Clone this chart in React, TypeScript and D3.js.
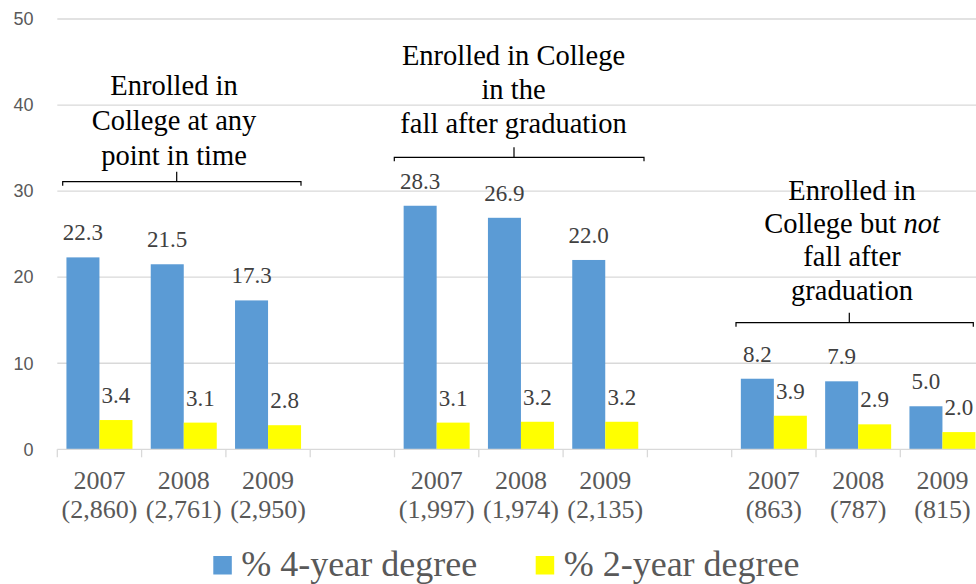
import React, { useEffect, useRef } from 'react';
import * as d3 from 'd3';

// category slots (blank slots separate the three groups)
const categoryYears = ['2007', '2008', '2009', '', '2007', '2008', '2009', '', '2007', '2008', '2009'];
const categoryNs = ['(2,860)', '(2,761)', '(2,950)', '', '(1,997)', '(1,974)', '(2,135)', '', '(863)', '(787)', '(815)'];

const fourYear = [22.3, 21.5, 17.3, null, 28.3, 26.9, 22.0, null, 8.2, 7.9, 5.0];
const twoYear = [3.4, 3.1, 2.8, null, 3.1, 3.2, 3.2, null, 3.9, 2.9, 2.0];

const seriesNames = ['% 4-year degree', '% 2-year degree'];
const seriesColors = ['#5b9bd5', '#ffff00'];

const yTicks = [0, 10, 20, 30, 40, 50];

const SERIF = "'Liberation Serif', 'DejaVu Serif', serif";
const SANS = "'Liberation Sans', Arial, sans-serif";

const App: React.FC = () => {
  const svgRef = useRef<SVGSVGElement>(null);

  useEffect(() => {
    document.body.style.margin = '0';
    if (!svgRef.current) return;

    const svg = d3.select(svgRef.current);
    svg.selectAll('*').remove();

    const width = 976;
    const height = 584;
    svg.attr('width', width).attr('height', height);

    const left = 57.3;
    const idx = categoryYears.map((_, i) => i);

    const x = d3.scaleBand<number>()
      .domain(idx)
      .range([left, left + 84.3 * idx.length]);

    const inner = d3.scaleBand<number>()
      .domain([0, 1])
      .range([0, x.bandwidth()])
      .paddingInner(0)
      .paddingOuter(0.277);

    const y = d3.scaleLinear().domain([0, 50]).range([449.3, 19]);

    // gridlines
    svg.append('g')
      .selectAll('line')
      .data(yTicks.filter(t => t > 0))
      .enter()
      .append('line')
      .attr('x1', left)
      .attr('x2', width)
      .attr('y1', d => y(d))
      .attr('y2', d => y(d))
      .style('stroke', '#d9d9d9')
      .style('stroke-width', '1.3px');

    // y labels
    svg.append('g')
      .selectAll('text')
      .data(yTicks)
      .enter()
      .append('text')
      .attr('x', 33.5)
      .attr('y', d => y(d))
      .attr('dy', '0.35em')
      .attr('text-anchor', 'end')
      .attr('font-family', SANS)
      .attr('font-size', 18)
      .attr('fill', '#595959')
      .text(d => d);

    // bars
    const series = [fourYear, twoYear];
    series.forEach((vals, s) => {
      const g = svg.append('g');
      const data = idx.filter(i => vals[i] !== null);
      g.selectAll('rect')
        .data(data)
        .enter()
        .append('rect')
        .attr('x', i => (x(i) as number) + (inner(s) as number))
        .attr('width', inner.bandwidth())
        .attr('y', i => y(vals[i] as number))
        .attr('height', i => y(0) - y(vals[i] as number))
        .attr('fill', seriesColors[s]);

      g.selectAll('text')
        .data(data)
        .enter()
        .append('text')
        .attr('x', i => (x(i) as number) + (inner(s) as number) + inner.bandwidth() / 2)
        .attr('y', i => y(vals[i] as number) - 17)
        .attr('text-anchor', 'middle')
        .attr('font-family', SERIF)
        .attr('font-size', 23)
        .attr('fill', '#404040')
        .text(i => (vals[i] as number).toFixed(1));
    });

    // x axis line + ticks
    svg.append('line')
      .attr('x1', left)
      .attr('x2', width)
      .attr('y1', y(0))
      .attr('y2', y(0))
      .attr('stroke', '#d9d9d9')
      .attr('stroke-width', 1.3);

    svg.append('g')
      .selectAll('line')
      .data(idx)
      .enter()
      .append('line')
      .attr('x1', i => x(i) as number)
      .attr('x2', i => x(i) as number)
      .attr('y1', y(0))
      .attr('y2', y(0) + 8)
      .attr('stroke', '#d9d9d9')
      .attr('stroke-width', 1.3);

    // x labels
    const xl = svg.append('g')
      .selectAll('text')
      .data(idx.filter(i => categoryYears[i] !== ''))
      .enter()
      .append('text')
      .attr('text-anchor', 'middle')
      .attr('font-family', SERIF)
      .attr('font-size', 26)
      .attr('fill', '#595959');
    xl.append('tspan')
      .attr('x', i => (x(i) as number) + x.bandwidth() / 2)
      .attr('y', 489)
      .text(i => categoryYears[i]);
    xl.append('tspan')
      .attr('x', i => (x(i) as number) + x.bandwidth() / 2)
      .attr('y', 518)
      .text(i => categoryNs[i]);

    // group annotations with brackets
    const notes = [
      { cx: 174, lines: [['Enrolled in'], ['College at any'], ['point in time']], y0: 95, lh: 35,
        bx1: 62.7, bx2: 301, by: 181.7, bc: 176.7 },
      { cx: 513.5, lines: [['Enrolled in College'], ['in the'], ['fall after graduation']], y0: 65, lh: 33.8,
        bx1: 394.3, bx2: 644, by: 157.3, bc: 514 },
      { cx: 852, lines: [['Enrolled in'], ['College but ', 'not'], ['fall after'], ['graduation']], y0: 200, lh: 33.2,
        bx1: 736, bx2: 973.3, by: 322.7, bc: 849.3 },
    ];
    notes.forEach(n => {
      const t = svg.append('text')
        .attr('text-anchor', 'middle')
        .attr('font-family', SERIF)
        .attr('font-size', 28.5)
        .attr('fill', '#000');
      n.lines.forEach((parts, li) => {
        const line = t.append('tspan')
          .attr('x', n.cx)
          .attr('y', n.y0 + li * n.lh);
        parts.forEach((p, pi) => {
          line.append('tspan')
            .attr('font-style', pi === 1 ? 'italic' : 'normal')
            .text(p);
        });
      });
      svg.append('path')
        .attr('d', `M${n.bx1},${n.by + 4}V${n.by}H${n.bx2}V${n.by + 4}M${n.bc},${n.by}V${n.by - 10}`)
        .attr('fill', 'none')
        .attr('stroke', '#000')
        .attr('stroke-width', 1.2);
    });

    // legend
    const legendX = [213.3, 535.7];
    seriesNames.forEach((name, s) => {
      svg.append('rect')
        .attr('x', legendX[s])
        .attr('y', 556)
        .attr('width', 18.5)
        .attr('height', 18.5)
        .attr('fill', seriesColors[s]);
      svg.append('text')
        .attr('x', legendX[s] + 28)
        .attr('y', 575.5)
        .attr('font-family', SERIF)
        .attr('font-size', 36)
        .attr('fill', '#595959')
        .text(name);
    });
  }, []);

  return <svg ref={svgRef} style={{ display: 'block' }}></svg>;
};

export default App;
